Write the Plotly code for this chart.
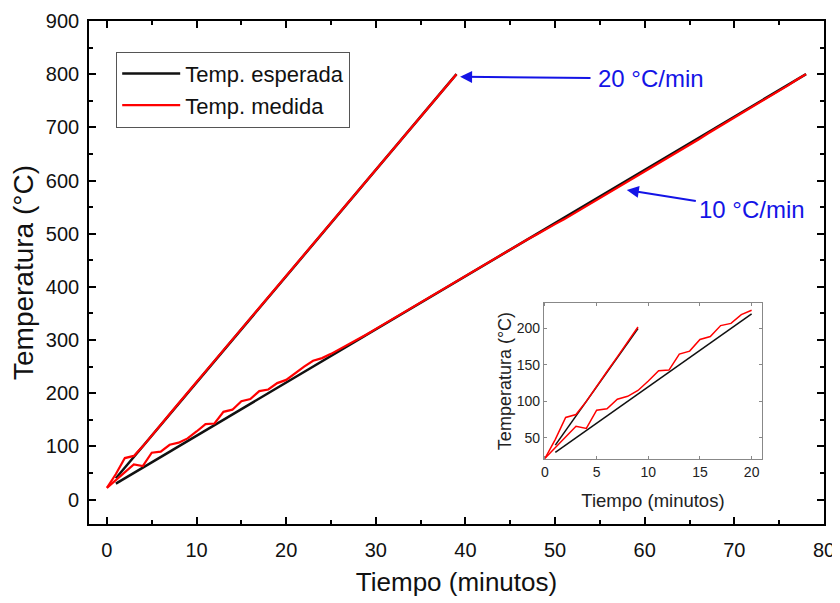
import plotly.graph_objects as go

# ---------------- data ----------------
# expected (programmed) temperature, key points
exp20_t = [1, 9, 39]
exp20_T = [40, 200, 800]
exp10_t = [1, 20, 78]
exp10_T = [30, 220, 800]

# measured temperature at 20 °C/min (per minute)
med20_t = list(range(0, 40))
med20_T = [22, 48, 78, 82, 100, 121, 141, 161, 181, 202, 221, 241, 261, 281, 300, 321,
           340, 360, 381, 400, 420, 441, 460, 481, 500, 521, 541, 561, 580, 601,
           620, 641, 660, 680, 701, 720, 740, 760, 780, 800]

# measured temperature at 10 °C/min (per minute)
med10_t = list(range(0, 79))
med10_T = [22, 37, 52, 66, 63, 88, 90, 103, 107, 115, 128, 142, 143, 165, 169, 185,
           189, 204, 207, 219, 225, 238, 250, 261, 266, 274, 283, 292, 301, 311,
           321, 331, 340, 351, 361, 371, 381, 391, 400, 411, 421, 430, 440, 450,
           461, 470, 481, 490, 499, 509, 518, 527, 537, 547, 557, 567, 577, 587,
           596, 606, 616, 626, 636, 646, 656, 667, 677, 688, 698, 708, 718, 728,
           739, 749, 759, 769, 779, 790, 800]

inset_end_20 = 9
inset_end_10 = 20

legend_names = ["Temp. esperada", "Temp. medida"]
rate_labels = ["20 °C/min", "10 °C/min"]

BLACK = "#111111"
RED = "#FF0000"
BLUE = "#1414E6"
FONT = "Liberation Sans, Arial, sans-serif"


def cut(ts, vs, tmax):
    pts = [(t, v) for t, v in zip(ts, vs) if t <= tmax]
    return [p[0] for p in pts], [p[1] for p in pts]


fig = go.Figure()

# main plot
fig.add_trace(go.Scatter(x=exp20_t, y=exp20_T, mode="lines", name=legend_names[0],
                         line=dict(color=BLACK, width=2.5), legendgroup="e"))
fig.add_trace(go.Scatter(x=exp10_t, y=exp10_T, mode="lines", name=legend_names[0],
                         line=dict(color=BLACK, width=2.5), showlegend=False, legendgroup="e"))
fig.add_trace(go.Scatter(x=med20_t, y=med20_T, mode="lines", name=legend_names[1],
                         line=dict(color=RED, width=2.2), legendgroup="m"))
fig.add_trace(go.Scatter(x=med10_t, y=med10_T, mode="lines", name=legend_names[1],
                         line=dict(color=RED, width=2.2), showlegend=False, legendgroup="m"))

# inset
for ts, vs, tmax, col in [(exp20_t, exp20_T, inset_end_20, BLACK),
                          (exp10_t, exp10_T, inset_end_10, BLACK),
                          (med20_t, med20_T, inset_end_20, RED),
                          (med10_t, med10_T, inset_end_10, RED)]:
    cx, cy = cut(ts, vs, tmax)
    fig.add_trace(go.Scatter(x=cx, y=cy, mode="lines", xaxis="x2", yaxis="y2",
                             line=dict(color=col, width=1.5), showlegend=False))

main_axis = dict(showline=True, linecolor="black", linewidth=1.6, mirror="allticks",
                 ticks="inside", ticklen=7, tickwidth=1.5, tickcolor="black",
                 showgrid=False, zeroline=False, automargin=False,
                 tickfont=dict(family=FONT, size=20, color="#111"))

inset_axis = dict(showline=True, linecolor="#888", linewidth=1, mirror="allticks",
                  ticks="inside", ticklen=3, tickcolor="#888", showgrid=False,
                  zeroline=False, automargin=False,
                  tickfont=dict(size=14, color="#222"))

fig.update_layout(
    width=832, height=595,
    margin=dict(l=81, r=16, t=13, b=79),
    paper_bgcolor="white", plot_bgcolor="white",
    font=dict(family=FONT, color="#111"),
    xaxis=dict(main_axis, range=[-2, 80], dtick=10, tick0=0,
               minor=dict(dtick=5, ticks="inside", ticklen=4, tickcolor="black"),
               ticklabelstandoff=7,
               title=dict(text="Tiempo (minutos)", font=dict(size=26), standoff=13)),
    yaxis=dict(main_axis, range=[-46, 900], dtick=100, tick0=0,
               minor=dict(dtick=50, ticks="inside", ticklen=4, tickcolor="black"),
               ticklabelstandoff=4,
               title=dict(text="Temperatura (°C)", font=dict(size=28), standoff=10)),
    xaxis2=dict(inset_axis, domain=[0.619, 0.9156], anchor="y2", range=[-0.1, 21], dtick=5,
                title=dict(text="Tiempo (minutos)", font=dict(size=18.5, color="#222"), standoff=15)),
    yaxis2=dict(inset_axis, domain=[0.1292, 0.4394], anchor="x2", range=[21, 235], dtick=50, tick0=0,
                title=dict(text="Temperatura (°C)", font=dict(size=18, color="#222"), standoff=0)),
    legend=dict(x=0.037, y=0.939, xanchor="left", yanchor="top",
                bordercolor="#555", borderwidth=1, bgcolor="white",
                font=dict(size=22, color="#111"), itemwidth=58, tracegroupgap=0),
    showlegend=True,
)

fig.add_annotation(x=39.4, y=795, ax=60.7, ay=792, xref="x", yref="y", axref="x", ayref="y",
                   text=rate_labels[0], showarrow=True, arrowhead=2, arrowsize=1.2,
                   arrowwidth=2, arrowcolor=BLUE, font=dict(size=24, color=BLUE),
                   startstandoff=6)
fig.add_annotation(x=58.0, y=582, ax=72.0, ay=545, xref="x", yref="y", axref="x", ayref="y",
                   text=rate_labels[1], showarrow=True, arrowhead=2, arrowsize=1.2,
                   arrowwidth=2, arrowcolor=BLUE, font=dict(size=24, color=BLUE),
                   startstandoff=2)

fig.write_html("out.html")
